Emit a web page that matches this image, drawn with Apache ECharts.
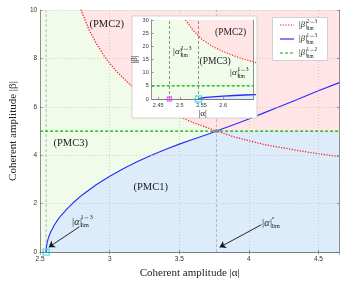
<!DOCTYPE html>
<html><head><meta charset="utf-8">
<script src="https://cdn.jsdelivr.net/npm/echarts@6/dist/echarts.min.js"></script>
<style>html,body{margin:0;padding:0;background:#fff}#c{width:353px;height:284px}</style>
</head><body><div id="c"></div>
<script>
// ---- data ----
const redAlpha = [2.513, 2.53, 2.55, 2.575, 2.6, 2.625, 2.65, 2.675, 2.7, 2.75, 2.794, 2.85, 2.9, 2.968, 3.05, 3.15, 3.222, 3.3, 3.4, 3.5, 3.6, 3.767, 3.894, 4.0, 4.1, 4.24, 4.4, 4.5, 4.65];
const redBeta  = [30, 26.2, 22.8, 20.0, 18.0, 16.4, 15.0, 13.9, 12.9, 11.3, 10.0, 9.2, 8.65, 8.03, 7.45, 6.9, 6.53, 6.22, 5.88, 5.6, 5.35, 5.0, 4.76, 4.6, 4.46, 4.31, 4.15, 4.06, 3.95];
const blueAlpha = [2.543, 2.545, 2.55, 2.56, 2.575, 2.6, 2.625, 2.65, 2.7, 2.75, 2.8, 2.9, 3.0, 3.1, 3.2, 3.3, 3.4, 3.5, 3.6, 3.7, 3.767, 3.9, 4.0, 4.1, 4.2, 4.3, 4.4, 4.5, 4.65];
const blueBeta  = [0, 0.21, 0.38, 0.6, 0.82, 1.1, 1.32, 1.51, 1.83, 2.1, 2.35, 2.77, 3.13, 3.45, 3.74, 4.0, 4.24, 4.46, 4.66, 4.86, 5.0, 5.28, 5.5, 5.73, 5.96, 6.19, 6.43, 6.66, 7.0];
const greenBeta = 5;
const alphaLim13 = 2.543;
const alphaLim23 = 2.476;
const alphaLimO = 3.767;
const mainXRange = [2.5, 4.65];
const mainYRange = [0, 10];
const insetXRange = [2.435, 2.67];
const insetYRange = [0, 30];
const insetXTicks = [2.45, 2.5, 2.55, 2.6];

// ---- styling ----
const SERIF = '"Liberation Serif","DejaVu Serif",serif';
const SANS = '"Liberation Sans","DejaVu Sans",sans-serif';
const PINK = '#ffe5e5', GREEN = '#f0fbea', BLUE = '#dcecfb';
const RED = '#ff1a1a', BLU = '#2a2aff', GRN = '#00b000';

const redPts = redAlpha.map((a, i) => [a, redBeta[i]]);
const bluePts = blueAlpha.map((a, i) => [a, blueBeta[i]]);

function fill(xi, data, color, z) {
  return {type: 'line', xAxisIndex: xi, yAxisIndex: xi, data, symbol: 'none', silent: true,
    lineStyle: {width: 0}, areaStyle: {color, opacity: 1}, z, animation: false};
}
function line(xi, data, color, width, dash, z) {
  return {type: 'line', xAxisIndex: xi, yAxisIndex: xi, data, symbol: 'none', silent: true,
    lineStyle: {color, width, type: dash || 'solid'}, z, animation: false};
}
function arrow(xi, from, to, z) {
  return {type: 'line', xAxisIndex: xi, yAxisIndex: xi, data: [], silent: true, z, animation: false,
    markLine: {silent: true, symbol: ['none', 'arrow'], symbolSize: 6, label: {show: false},
      lineStyle: {color: '#111', width: 0.9, type: 'solid'}, animation: false,
      data: [[{coord: from}, {coord: to}]]}};
}
function marker(xi, pt, shape, color, size, z, filled) {
  return {type: 'scatter', xAxisIndex: xi, yAxisIndex: xi, data: [pt], symbol: shape, symbolSize: size,
    clip: false, silent: true, z, animation: false,
    itemStyle: {color: filled ? color : 'rgba(0,0,0,0)', borderColor: color, borderWidth: filled ? 0 : 1.4}};
}

const mainGreenTop = [[mainXRange[0], mainYRange[1]]].concat(redPts.map(p => [p[0], Math.min(mainYRange[1], Math.max(p[1], greenBeta))]));
const mainBlueTop = [[mainXRange[0], 0]].concat(bluePts.map(p => [p[0], Math.min(p[1], greenBeta)]));
const insetGreenTop = [[insetXRange[0], insetYRange[1]]].concat(redPts.map(p => [p[0], Math.min(insetYRange[1], p[1])]));

const series = [
  fill(0, [[mainXRange[0], mainYRange[1]], [mainXRange[1], mainYRange[1]]], PINK, 1),
  fill(0, mainGreenTop, GREEN, 1),
  fill(0, mainBlueTop, BLUE, 1),
  line(0, [[alphaLim13, 0], [alphaLim13, 10]], '#b0b0b0', 0.9, [3, 2], 2),
  line(0, [[alphaLimO, 0], [alphaLimO, 10]], '#b0b0b0', 0.9, [3, 2], 2),
  line(0, bluePts, BLU, 1.1, 'solid', 3),
  line(0, redPts, RED, 1.3, [1.2, 1.5], 3),
  line(0, [[mainXRange[0], greenBeta], [mainXRange[1], greenBeta]], GRN, 1.3, [3, 2], 3),
  marker(0, [alphaLimO, greenBeta], 'circle', '#888', 4, 4, true),
  marker(0, [alphaLim13, 0], 'rect', '#19e6f0', 6, 4, false),
  arrow(0, [2.783, 1.05], [2.562, 0.2], 4),
  arrow(0, [4.09, 1.13], [3.79, 0.2], 4),
  // inset
  fill(2, [[insetXRange[0], insetYRange[1]], [insetXRange[1], insetYRange[1]]], PINK, 30),
  fill(2, insetGreenTop, GREEN, 30),
  fill(2, bluePts, BLUE, 30),
  line(2, [[alphaLim23, 0], [alphaLim23, 30]], '#777', 0.8, [3, 2], 31),
  line(2, [[alphaLim13, 0], [alphaLim13, 30]], '#777', 0.8, [3, 2], 31),
  line(2, bluePts, BLU, 1.3, 'solid', 32),
  line(2, redPts, RED, 1.2, [1.2, 1.5], 32),
  line(2, [[insetXRange[0], greenBeta], [insetXRange[1], greenBeta]], GRN, 1.1, [3, 2], 32),
  marker(2, [alphaLim23, 0], 'rect', '#ff40ff', 4, 33, false),
  marker(2, [alphaLim13, 0], 'rect', '#19e6f0', 6, 33, false),
  arrow(2, [2.528, 15.5], [2.4815, 1.4], 33),
  arrow(2, [2.6115, 9.0], [2.55, 1.3], 33)
];

const axLine = {show: true, lineStyle: {color: '#777', width: 0.8}};
const tick = {show: true, inside: true, length: 2.5, lineStyle: {color: '#777', width: 0.7}};
const tickLbl = {fontFamily: SANS, fontSize: 6.5, color: '#333'};

const xAxis = [
  {type: 'value', gridIndex: 0, min: mainXRange[0], max: mainXRange[1], interval: 0.5, z: 5,
    axisLine: axLine, axisTick: tick, axisLabel: Object.assign({margin: 4, showMaxLabel: false}, tickLbl),
    splitLine: {show: true, lineStyle: {color: '#c4c4c4', width: 0.8, type: [1, 2]}},
    name: 'Coherent amplitude |α|', nameLocation: 'middle', nameGap: 13,
    nameTextStyle: {fontFamily: SERIF, fontSize: 11, color: '#222'}},
  {type: 'value', gridIndex: 0, position: 'top', min: mainXRange[0], max: mainXRange[1], interval: 0.5, z: 5,
    axisLine: axLine, axisTick: tick, axisLabel: {show: false}, splitLine: {show: false}},
  {type: 'value', gridIndex: 1, min: insetXRange[0], max: insetXRange[1], z: 35,
    axisLine: axLine, axisTick: Object.assign({}, tick, {customValues: insetXTicks, length: 2}),
    axisLabel: {customValues: insetXTicks, margin: 3, fontFamily: SANS, fontSize: 5.5, color: '#333'},
    splitLine: {show: false},
    name: '|α|', nameLocation: 'middle', nameGap: 10,
    nameTextStyle: {fontFamily: SERIF, fontSize: 9, color: '#222'}},
  {type: 'value', gridIndex: 1, position: 'top', min: insetXRange[0], max: insetXRange[1], z: 35,
    axisLine: axLine, axisTick: {show: false}, axisLabel: {show: false}, splitLine: {show: false}}
];
const yAxis = [
  {type: 'value', gridIndex: 0, min: mainYRange[0], max: mainYRange[1], interval: 2, z: 5,
    axisLine: axLine, axisTick: tick, axisLabel: Object.assign({margin: 3}, tickLbl),
    splitLine: {show: true, lineStyle: {color: '#c4c4c4', width: 0.8, type: [1, 2]}},
    name: 'Coherent amplitude |β|', nameLocation: 'middle', nameGap: 16,
    nameTextStyle: {fontFamily: SERIF, fontSize: 11, color: '#222'}},
  {type: 'value', gridIndex: 0, position: 'right', min: mainYRange[0], max: mainYRange[1], interval: 2, z: 5,
    axisLine: axLine, axisTick: tick, axisLabel: {show: false}, splitLine: {show: false}},
  {type: 'value', gridIndex: 1, min: insetYRange[0], max: insetYRange[1], interval: 5, z: 35,
    axisLine: axLine, axisTick: Object.assign({}, tick, {length: 2}),
    axisLabel: {margin: 3, fontFamily: SANS, fontSize: 5.5, color: '#333'},
    splitLine: {show: false},
    name: '|β|', nameLocation: 'middle', nameGap: 7,
    nameTextStyle: {fontFamily: SERIF, fontSize: 9, color: '#222'}},
  {type: 'value', gridIndex: 1, position: 'right', min: insetYRange[0], max: insetYRange[1], interval: 5, z: 35,
    axisLine: axLine, axisTick: {show: false}, axisLabel: {show: false}, splitLine: {show: false}}
];

function txt(x, y, text, size, italic, z) {
  return {type: 'text', x, y, z: z || 40, silent: true,
    style: {text, font: (italic ? 'italic ' : '') + size + 'px ' + SERIF, fill: '#1a1a1a',
      textAlign: 'left', textVerticalAlign: 'middle', align: 'left', verticalAlign: 'middle'}};
}
function mathLbl(x, y, base, sup, sub, size, supX) {
  const s = size * 0.62;
  return [txt(x, y, base, size, true), txt(supX, y - size * 0.42, sup, s, false), txt(supX, y + size * 0.38, sub, s, false)];
}

const graphics = [
  {type: 'rect', z: 20, silent: true, shape: {x: 132, y: 16, width: 125, height: 102},
    style: {fill: '#fff', stroke: '#c8c8c8', lineWidth: 0.8}},
  {type: 'rect', z: 20, silent: true, shape: {x: 272.5, y: 17.5, width: 55, height: 43},
    style: {fill: '#fff', stroke: '#c8c8c8', lineWidth: 0.8}},
  {type: 'line', z: 21, silent: true, shape: {x1: 280, y1: 25, x2: 294, y2: 25}, style: {stroke: RED, lineWidth: 1.2, lineDash: [1.2, 1.5]}},
  {type: 'line', z: 21, silent: true, shape: {x1: 280, y1: 39, x2: 294, y2: 39}, style: {stroke: BLU, lineWidth: 1.2}},
  {type: 'line', z: 21, silent: true, shape: {x1: 280, y1: 53, x2: 294, y2: 53}, style: {stroke: GRN, lineWidth: 1.2, lineDash: [3, 2]}},
  ...mathLbl(298.5, 25, '|β|', '2↔3', 'lim', 8.5, 306.5),
  ...mathLbl(298.5, 39, '|β|', '1↔3', 'lim', 8.5, 306.5),
  ...mathLbl(298.5, 53, '|β|', '1↔2', 'lim', 8.5, 306.5),
  txt(89.5, 24, '(PMC2)', 10.5, false, 10),
  txt(53.5, 143, '(PMC3)', 10.5, false, 10),
  txt(133.5, 187, '(PMC1)', 10.5, false, 10),
  ...mathLbl(71.5, 222, '|α|', '1↔3', 'lim', 10, 80.5),
  ...mathLbl(261.5, 223, '|α|', '∘', 'lim', 10, 271.5),
  txt(215, 32, '(PMC2)', 9.5, false, 40),
  txt(199.5, 61.5, '(PMC3)', 9.5, false, 40),
  ...mathLbl(172.5, 52, '|α|', '2↔3', 'lim', 9, 180.5),
  ...mathLbl(229.5, 73, '|α|', '1↔3', 'lim', 9, 237.5)
];

const chart = echarts.init(document.getElementById('c'));
chart.setOption({
  animation: false,
  backgroundColor: '#fff',
  grid: [
    {left: 29.3, top: 10, width: 310, height: 245, containLabel: false},
    {left: 151.7, top: 20, width: 101.8, height: 79, containLabel: false}
  ],
  xAxis, yAxis, series, graphic: graphics
});
</script></body></html>
